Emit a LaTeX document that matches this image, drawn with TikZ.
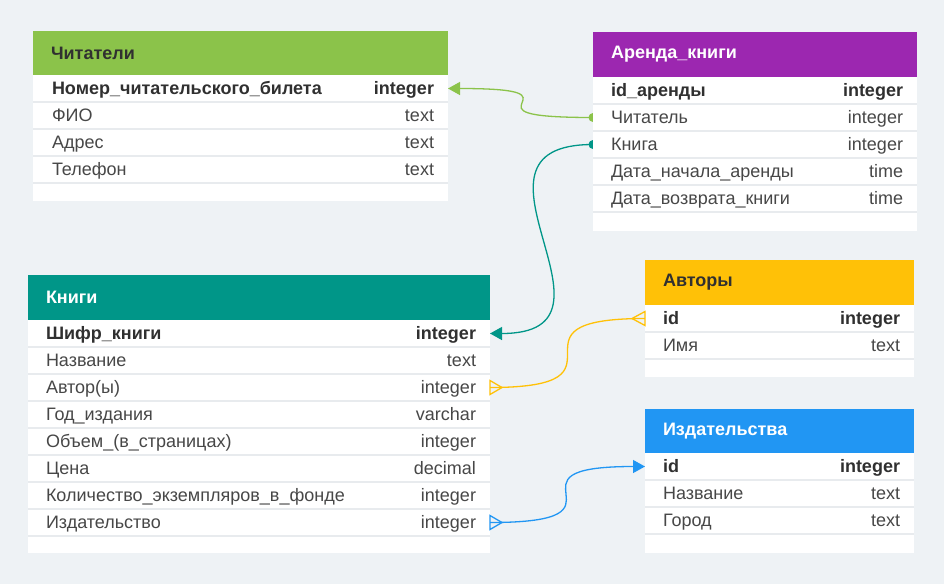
\documentclass[tikz,border=0pt]{standalone}
\usepackage{fontspec}
\setmainfont{Liberation Sans}
\usetikzlibrary{calc,arrows.meta}
\pgfdeclarelayer{bg}
\pgfsetlayers{bg,main}
\definecolor{backdrop}{HTML}{EEF2F5}
\definecolor{sepline}{HTML}{E8EBEE}
\definecolor{txt}{HTML}{474747}
\definecolor{dark}{HTML}{303030}
\definecolor{grn}{HTML}{8BC34A}
\definecolor{prp}{HTML}{9C27B0}
\definecolor{tel}{HTML}{009688}
\definecolor{amb}{HTML}{FFC107}
\definecolor{blu}{HTML}{2196F3}

\begin{document}
\begin{tikzpicture}[x=1pt, y=-1pt,
  every node/.style={inner sep=0, outer sep=0, font=\fontsize{18}{21}\selectfont},
  head/.style={anchor=north west, minimum height=#1},
  body/.style={anchor=north west, fill=white},
  row/.style={anchor=north west, minimum height=27},
  tabtitle/.style={anchor=west, font=\fontsize{18}{21}\selectfont\bfseries},
  fld/.style={anchor=base west, text=txt},
  typ/.style={anchor=base east, text=txt},
  pk/.style={text=dark, font=\fontsize{18}{21}\selectfont\bfseries},
  rowline/.style={draw=sepline, line width=2},
  link/.style={draw=#1, line width=1.3},
  tri/.style={-{Triangle[length=12pt,width=13pt]}}]

  % Читатели
  \node[head=44, fill=grn, minimum width=415] (reader) at (33,31) {};
  \node[tabtitle, text=dark] (reader-title) at ($(reader.west)+(18,0)$) {Читатели};
  \node[body, minimum width=415, minimum height=126] (reader-body) at (33,75) {};
  \node[row, minimum width=415] (reader-1) at (33,75) {};
  \node[fld, pk] (reader-1-f) at ($(reader-1.west)+(19,6)$) {Номер\_читательского\_билета};
  \node[typ, pk] (reader-1-t) at ($(reader-1.east)+(-14,6)$) {integer};
  \foreach \f/\t [count=\i from 2] in {ФИО/text, Адрес/text, Телефон/text} {
    \node[row, minimum width=415] (reader-\i) at (33,{75+27*(\i-1)}) {};
    \node[fld] (reader-\i-f) at ($(reader-\i.west)+(19,6)$) {\f};
    \node[typ] (reader-\i-t) at ($(reader-\i.east)+(-14,6)$) {\t};
  }
  \foreach \i in {1,...,4}
    \draw[rowline] (reader-\i.south west) -- (reader-\i.south east);

  % Аренда_книги
  \node[head=45, fill=prp, minimum width=324] (rent) at (593,32) {};
  \node[tabtitle, text=white] (rent-title) at ($(rent.west)+(18,0)$) {Аренда\_книги};
  \node[body, minimum width=324, minimum height=154] (rent-body) at (593,77) {};
  \node[row, minimum width=324] (rent-1) at (593,77) {};
  \node[fld, pk] (rent-1-f) at ($(rent-1.west)+(18,6)$) {id\_аренды};
  \node[typ, pk] (rent-1-t) at ($(rent-1.east)+(-14,6)$) {integer};
  \foreach \f/\t [count=\i from 2] in {Читатель/integer, Книга/integer,
      Дата\_начала\_аренды/time, Дата\_возврата\_книги/time} {
    \node[row, minimum width=324] (rent-\i) at (593,{77+27*(\i-1)}) {};
    \node[fld] (rent-\i-f) at ($(rent-\i.west)+(18,6)$) {\f};
    \node[typ] (rent-\i-t) at ($(rent-\i.east)+(-14,6)$) {\t};
  }
  \foreach \i in {1,...,5}
    \draw[rowline] (rent-\i.south west) -- (rent-\i.south east);

  % Книги
  \node[head=45, fill=tel, minimum width=462] (books) at (28,275) {};
  \node[tabtitle, text=white] (books-title) at ($(books.west)+(18,0)$) {Книги};
  \node[body, minimum width=462, minimum height=233] (books-body) at (28,320) {};
  \node[row, minimum width=462] (books-1) at (28,320) {};
  \node[fld, pk] (books-1-f) at ($(books-1.west)+(18,6)$) {Шифр\_книги};
  \node[typ, pk] (books-1-t) at ($(books-1.east)+(-14,6)$) {integer};
  \foreach \f/\t [count=\i from 2] in {Название/text, Автор(ы)/integer,
      Год\_издания/varchar, Объем\_(в\_страницах)/integer, Цена/decimal,
      Количество\_экземпляров\_в\_фонде/integer, Издательство/integer} {
    \node[row, minimum width=462] (books-\i) at (28,{320+27*(\i-1)}) {};
    \node[fld] (books-\i-f) at ($(books-\i.west)+(18,6)$) {\f};
    \node[typ] (books-\i-t) at ($(books-\i.east)+(-14,6)$) {\t};
  }
  \foreach \i in {1,...,8}
    \draw[rowline] (books-\i.south west) -- (books-\i.south east);

  % Авторы
  \node[head=45, fill=amb, minimum width=269] (authors) at (645,260) {};
  \node[tabtitle, text=dark] (authors-title) at ($(authors.west)+(18,0)$) {Авторы};
  \node[body, minimum width=269, minimum height=72] (authors-body) at (645,305) {};
  \node[row, minimum width=269] (authors-1) at (645,305) {};
  \node[fld, pk] (authors-1-f) at ($(authors-1.west)+(18,6)$) {id};
  \node[typ, pk] (authors-1-t) at ($(authors-1.east)+(-14,6)$) {integer};
  \node[row, minimum width=269] (authors-2) at (645,332) {};
  \node[fld] (authors-2-f) at ($(authors-2.west)+(18,6)$) {Имя};
  \node[typ] (authors-2-t) at ($(authors-2.east)+(-14,6)$) {text};
  \foreach \i in {1,2}
    \draw[rowline] (authors-\i.south west) -- (authors-\i.south east);

  % Издательства
  \node[head=44, fill=blu, minimum width=269] (pubs) at (645,409) {};
  \node[tabtitle, text=white] (pubs-title) at ($(pubs.west)+(18,0)$) {Издательства};
  \node[body, minimum width=269, minimum height=100] (pubs-body) at (645,453) {};
  \node[row, minimum width=269] (pubs-1) at (645,453) {};
  \node[fld, pk] (pubs-1-f) at ($(pubs-1.west)+(18,6)$) {id};
  \node[typ, pk] (pubs-1-t) at ($(pubs-1.east)+(-14,6)$) {integer};
  \foreach \f/\t [count=\i from 2] in {Название/text, Город/text} {
    \node[row, minimum width=269] (pubs-\i) at (645,{453+27*(\i-1)}) {};
    \node[fld] (pubs-\i-f) at ($(pubs-\i.west)+(18,6)$) {\f};
    \node[typ] (pubs-\i-t) at ($(pubs-\i.east)+(-14,6)$) {\t};
  }
  \foreach \i in {1,2,3}
    \draw[rowline] (pubs-\i.south west) -- (pubs-\i.south east);

  % связи
  \begin{pgfonlayer}{bg}
    \fill[backdrop] (0,0) rectangle (944,584);
    \draw[link=grn, tri] (rent-2.west) .. controls +(-150,0) and +(150,0) .. (reader-1.east);
    \fill[grn] (rent-2.west) circle[radius=4.5];
    \draw[link=tel, tri] (rent-3.west) .. controls +(-150,0) and +(150,0) .. (books-1.east);
    \fill[tel] (rent-3.west) circle[radius=4.5];
    \draw[link=amb] (books-3.east) .. controls +(155,0) and +(-155,0) .. (authors-1.west);
    \draw[link=blu, tri] (books-8.east) .. controls +(155,0) and +(-155,0) .. (pubs-1.west);
  \end{pgfonlayer}
  \draw[link=amb] ($(books-3.east)+(0,-7)$) -- ($(books-3.east)+(12,0)$)
    -- ($(books-3.east)+(0,7)$) -- cycle;
  \draw[link=amb] ($(authors-1.west)+(0,-7)$) -- ($(authors-1.west)+(-13,0)$)
    -- ($(authors-1.west)+(0,7)$) -- cycle;
  \draw[link=blu] ($(books-8.east)+(0,-7)$) -- ($(books-8.east)+(12,0)$)
    -- ($(books-8.east)+(0,7)$) -- cycle;
\end{tikzpicture}
\end{document}
